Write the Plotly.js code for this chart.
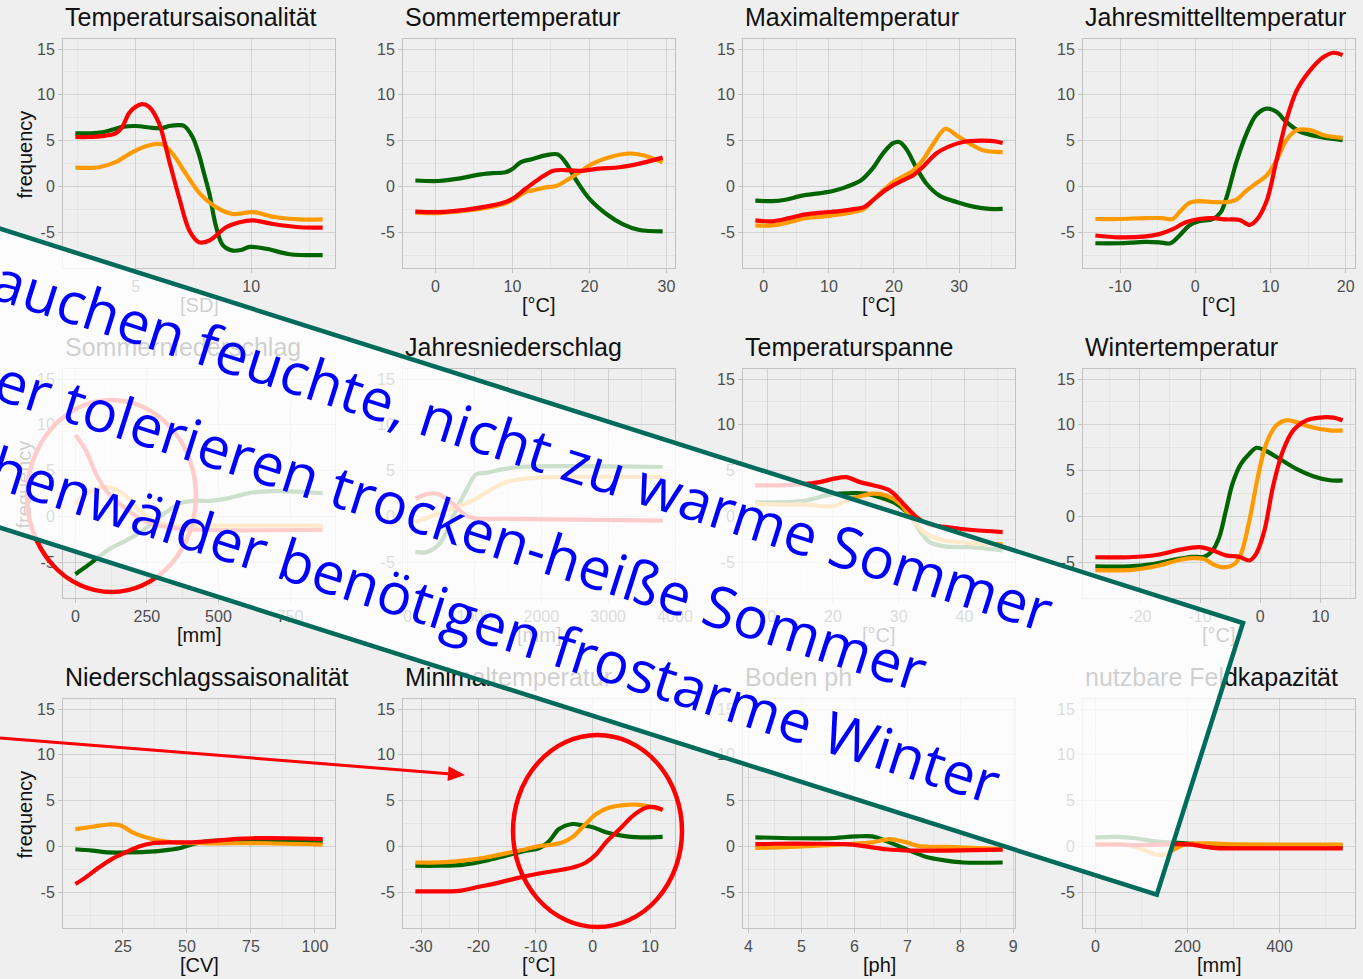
<!DOCTYPE html>
<html><head><meta charset="utf-8">
<script src="https://cdn.plot.ly/plotly-3.0.1.min.js"></script>
<style>
html,body{margin:0;padding:0;background:#efefef;overflow:hidden;width:1363px;height:979px}
#chart,#overlay{position:absolute;left:0;top:0;width:1363px;height:979px}
#overlay{pointer-events:none}
</style></head><body>
<div id="chart"></div><div id="overlay"></div>
<script>
// ---------- labels ----------
const panelTitles = ['Temperatursaisonalität','Sommertemperatur','Maximaltemperatur','Jahresmittelltemperatur',
  'Sommerniederschlag','Jahresniederschlag','Temperaturspanne','Wintertemperatur',
  'Niederschlagssaisonalität','Minimaltemperatur','Boden ph','nutzbare Feldkapazität'];
const xUnitLabels = ['[SD]','[°C]','[°C]','[°C]','[mm]','[mm]','[°C]','[°C]','[CV]','[°C]','[ph]','[mm]'];
const xTickSteps = [5,10,10,10,250,1000,10,10,25,10,1,200];
const yTickValues = [-5,0,5,10,15];
const yAxisTitle = 'frequency';
const bannerLines = ['auchen feuchte, nicht zu warme Sommer','er tolerieren trocken-heiße Sommer','henwälder benötigen frostarme Winter'];

// ---------- data ----------
// 1 Temperatursaisonalität
const tsGreenX = [2.39,2.97,3.55,4.13,4.42,5.0,5.72,6.16,6.45,6.88,7.1,7.46,7.75,7.97,8.19,8.48,8.77,9.2,9.6,9.93,10.65,11.67,13.09];
const tsGreenY = [5.8,5.8,5.9,6.3,6.5,6.6,6.4,6.4,6.6,6.7,6.6,5.4,3.4,1.3,-0.8,-4.4,-6.4,-7.0,-6.9,-6.6,-6.8,-7.4,-7.5];
const tsOrangeX = [2.39,3.41,4.13,4.86,5.58,6.16,6.59,7.17,7.75,8.48,9.2,10.07,10.94,12.1,13.09];
const tsOrangeY = [2.05,2.1,2.65,3.75,4.5,4.6,3.6,1.4,-0.7,-2.25,-3.0,-2.8,-3.3,-3.6,-3.6];
const tsRedX = [2.39,2.97,3.55,4.13,4.42,4.71,5.0,5.29,5.58,6.01,6.45,6.88,7.32,7.75,8.19,8.91,9.49,10.07,10.94,12.1,13.09];
const tsRedY = [5.4,5.4,5.5,5.8,6.5,8.0,8.7,9.0,8.7,6.9,2.8,-1.2,-4.8,-6.1,-5.9,-4.45,-3.9,-3.7,-4.1,-4.45,-4.5];
// 2 Sommertemperatur
const stGreenX = [-2.6,0.43,3.0,5.65,7.4,9.1,10,11.1,12.6,14.3,15.9,17,18.3,20,22.2,24.3,26.5,29.5];
const stGreenY = [0.65,0.6,0.85,1.3,1.45,1.55,1.9,2.65,3.0,3.4,3.5,2.5,0.65,-1.35,-3.0,-4.1,-4.75,-4.9];
const stOrangeX = [-2.6,0.43,3.9,6.5,8.7,10,11.7,12.6,14.3,15.7,17,18.7,20.4,22.6,25.2,27,29.5];
const stOrangeY = [-2.85,-2.9,-2.65,-2.35,-1.95,-1.5,-0.6,-0.45,-0.1,0.05,0.65,1.55,2.5,3.2,3.6,3.4,2.65];
const stRedX = [-2.6,0.43,3.9,6.5,8.7,10,11.7,13.5,15.2,16.5,18.7,21.3,23.9,26.5,29.5];
const stRedY = [-2.75,-2.8,-2.55,-2.2,-1.8,-1.35,-0.25,0.85,1.7,1.8,1.7,1.95,2.1,2.5,3.15];
// 3 Maximaltemperatur
const mxGreenX = [-1.3,1.3,3.3,5.9,8.5,10.6,12.6,14.9,16.7,18.3,19.8,20.8,21.9,23.4,25,27,29.6,32.2,34.7,36.7];
const mxGreenY = [-1.55,-1.6,-1.45,-1.0,-0.75,-0.5,-0.07,0.65,1.95,3.6,4.7,4.85,4.1,2.1,0.3,-1.0,-1.7,-2.2,-2.45,-2.45];
const mxOrangeX = [-1.3,1.3,3.9,6.4,9,11.6,13.6,15.4,16.7,18.3,19.8,21.9,22.9,24.4,26,27.9,29.6,31.7,33.7,36.7];
const mxOrangeY = [-4.25,-4.25,-3.9,-3.45,-3.3,-3.05,-2.8,-2.45,-1.55,-0.45,0.45,1.3,1.7,2.85,4.6,6.3,5.6,4.65,3.95,3.75];
const mxRedX = [-1.3,1.3,3.9,6.4,9,11.6,13.6,15.4,16.7,18.3,19.8,21.9,22.9,24.4,26.5,28.6,30.6,33.2,35.3,36.7];
const mxRedY = [-3.7,-3.8,-3.45,-3.05,-2.85,-2.7,-2.5,-2.25,-1.55,-0.6,0.1,0.85,1.2,2.1,3.6,4.4,4.85,5.0,4.95,4.75];
// 4 Jahresmittelltemperatur
const jmGreenX = [-13.3,-10.2,-6.6,-4.8,-3.3,-2.1,-0.8,0.5,2.3,3.4,4.3,5.4,6.8,8.1,9.5,10.8,12.1,13.9,16.6,19.6];
const jmGreenY = [-6.2,-6.2,-6.05,-6.1,-6.2,-5.35,-4.25,-3.8,-3.55,-2.8,-0.8,2.5,5.75,7.8,8.5,8.15,7.05,6.0,5.4,5.05];
const jmOrangeX = [-13.3,-10.2,-6.6,-4.4,-3,-2.1,-0.8,0.5,2.3,4.1,5.4,6.8,8.1,9.5,10.8,12.1,13.5,15.3,17.1,19.6];
const jmOrangeY = [-3.55,-3.55,-3.45,-3.45,-3.55,-2.8,-1.8,-1.6,-1.7,-1.7,-1.45,-0.45,0.35,1.2,2.85,5.05,6.15,6.15,5.6,5.3];
const jmRedX = [-13.3,-10.2,-6.6,-4.8,-3,-1.25,0.5,2.3,4.1,5.9,7.2,8.1,9.5,10.8,12.1,13.5,15.3,17.1,18.4,19.6];
const jmRedY = [-5.35,-5.55,-5.45,-5.2,-4.65,-3.9,-3.55,-3.45,-3.6,-3.65,-4.2,-3.7,-1.55,2.85,7.2,10.5,12.7,14.15,14.6,14.35];
// 5 Sommerniederschlag
const snGreenX = [0,49,119,178,236,294,364,411,470,528,598,668,750,864];
const snGreenY = [-6.3,-5.2,-3.55,-2.6,-1.55,-0.07,1.4,1.7,1.7,1.95,2.5,2.75,2.75,2.55];
const snOrangeX = [0,49,107,166,224,283,341,434,864];
const snOrangeY = [1.4,2.65,3.2,2.5,0.65,-0.6,-1.0,-1.0,-1.0];
const snRedX = [0,37,72,107,154,201,259,318,434,864];
const snRedY = [8.9,7.2,4.65,2.85,1.4,0.3,-0.7,-1.15,-1.45,-1.45];
// 6 Jahresniederschlag
const jnGreenX = [115,275,475,675,875,1025,1175,1375,1675,3815];
const jnGreenY = [-3.9,-3.9,-3.0,-0.07,2.85,4.6,4.75,5.1,5.4,5.4];
const jnOrangeX = [115,475,725,975,1225,1475,1725,2225,3815];
const jnOrangeY = [-0.6,0.35,1.0,1.75,2.85,3.75,4.1,4.3,4.3];
const jnRedX = [115,325,475,675,875,1075,1475,3815];
const jnRedY = [1.95,2.5,2.4,1.4,0.1,-0.25,-0.25,-0.45];
// 7 Temperaturspanne
const tspGreenX = [8.2,11.9,15.9,19,21,23,25.1,27.1,29.6,31.7,33.2,34.7,37.3,40.8,45.8];
const tspGreenY = [1.55,1.55,1.75,2.3,2.5,2.55,2.5,2.1,1.4,0.1,-1.55,-2.8,-3.3,-3.35,-3.7];
const tspOrangeX = [8.2,11.9,15.9,19,20.5,22,24.1,26.1,28.1,30.2,32.2,34.2,36.8,40.8,45.8];
const tspOrangeY = [1.4,1.3,1.3,1.1,1.2,1.75,2.2,2.5,2.3,1.4,-0.45,-1.9,-2.6,-2.9,-3.05];
const tspRedX = [8.2,11.9,14.9,18,20,22,24.1,26.1,28.6,30.7,32.7,34.7,37.3,40.8,45.8];
const tspRedY = [3.4,3.4,3.5,3.75,4.1,4.3,3.75,3.4,2.85,1.4,-0.07,-0.9,-1.15,-1.45,-1.7];
// 8 Wintertemperatur
const wtGreenX = [-27.4,-21.8,-17.9,-14.6,-11.3,-9.3,-7.9,-6.8,-5.7,-4.6,-3.2,-1.8,-0.6,1,3.2,6,8.8,11.6,13.7];
const wtGreenY = [-5.45,-5.45,-5.2,-4.75,-4.4,-4.4,-3.7,-2.25,0.65,3.6,5.75,6.85,7.5,7.15,6.3,5.2,4.4,3.95,3.95];
const wtOrangeX = [-27.4,-21.8,-16.8,-13.5,-11.3,-9.3,-7.9,-6.2,-4.3,-3.2,-1.8,-0.4,1,2.7,4.3,6,8.2,11.6,13.7];
const wtOrangeY = [-5.85,-5.85,-5.35,-4.75,-4.55,-4.65,-5.2,-5.55,-5.2,-4.1,-0.45,4.3,7.95,9.95,10.5,10.3,9.8,9.4,9.4];
const wtRedX = [-27.4,-21.8,-16.8,-13.5,-10.1,-7.9,-5.7,-3.5,-1.8,-0.7,0.7,2.1,3.8,5.5,7.7,9.9,12.1,13.7];
const wtRedY = [-4.45,-4.45,-4.15,-3.65,-3.35,-3.7,-4.25,-4.4,-4.8,-4.1,-1.55,3.2,7.2,9.4,10.5,10.8,10.8,10.5];
// 9 Niederschlagssaisonalität
const nsGreenX = [6.4,13,19.5,26,33.9,41.8,47,52.2,57.5,67.9,81,103];
const nsGreenY = [-0.3,-0.45,-0.65,-0.65,-0.6,-0.4,-0.2,0.25,0.55,0.7,0.6,0.55];
const nsOrangeX = [6.4,13,19.5,24.1,28.7,33.9,39.1,44.4,54.8,67.9,81,103];
const nsOrangeY = [1.9,2.15,2.4,2.3,1.55,1.0,0.65,0.45,0.35,0.35,0.35,0.2];
const nsRedX = [6.4,10.3,15.6,20.8,26,31.3,36.5,44.4,52.2,60.1,67.9,75.8,88.9,103];
const nsRedY = [-4.1,-3.4,-2.3,-1.35,-0.65,0,0.35,0.45,0.45,0.6,0.8,0.9,0.9,0.8];
// 10 Minimaltemperatur
const mnGreenX = [-31,-26.9,-22.8,-18.7,-15.2,-11.7,-9.4,-7.6,-5.9,-3.5,-1.8,0,2.3,5.3,8.2,12.2];
const mnGreenY = [-2.1,-2.1,-2.0,-1.55,-1.0,-0.45,-0.2,0.6,1.9,2.45,2.3,2.1,1.55,1.15,1.0,1.05];
const mnOrangeX = [-31,-26.9,-22.8,-18.7,-15.2,-11.7,-9.4,-7,-5.3,-3.5,-1.8,0.6,2.9,5.9,8.2,12.2];
const mnOrangeY = [-1.75,-1.75,-1.55,-1.2,-0.75,-0.3,0.05,0.2,0.45,1.05,2.1,3.55,4.25,4.55,4.55,4.0];
const mnRedX = [-31,-26.9,-23.4,-19.9,-16.4,-12.9,-9.4,-5.9,-3.5,-1.2,0.6,2.3,4.7,7,9.4,10.8,12.2];
const mnRedY = [-4.9,-4.9,-4.85,-4.4,-3.95,-3.4,-2.95,-2.6,-2.3,-1.75,-0.85,0.45,1.9,3.35,4.25,4.3,4.0];
// 11 Boden ph
const bpGreenX = [4.13,4.89,5.52,6.03,6.34,6.6,6.98,7.36,7.74,8.05,8.8];
const bpGreenY = [1.0,0.9,0.9,1.1,1.1,0.6,-0.3,-1.15,-1.55,-1.75,-1.75];
const bpOrangeX = [4.13,4.57,5.2,5.84,6.34,6.66,6.98,7.23,7.74,8.8];
const bpOrangeY = [-0.15,-0.1,0.05,0.25,0.45,0.8,0.45,0.05,-0.05,-0.3];
const bpRedX = [4.13,4.57,5.2,5.84,6.22,6.6,7.1,7.74,8.8];
const bpRedY = [0.25,0.3,0.3,0.25,0,-0.3,-0.45,-0.45,-0.35];
// 12 nutzbare Feldkapazität
const nfGreenX = [0,51,87,124,160,196,240,284,537];
const nfGreenY = [1.0,1.05,0.9,0.6,0.45,0.35,0.2,0.05,0.05];
const nfOrangeX = [0,65,102,131,153,175,196,240,284,537];
const nfOrangeY = [0.25,0.2,-0.3,-0.9,-0.85,-0.2,0.25,0.35,0.25,0.2];
const nfRedX = [0,51,95,138,182,211,240,269,342,537];
const nfRedY = [0.2,0.2,0.15,0.2,0.25,0.2,-0.05,-0.2,-0.2,-0.2];

const seriesColors = ['#006400','#FF9A00','#FF0000'];
const panelSeries = [
  [[tsGreenX,tsGreenY],[tsOrangeX,tsOrangeY],[tsRedX,tsRedY]],
  [[stGreenX,stGreenY],[stOrangeX,stOrangeY],[stRedX,stRedY]],
  [[mxGreenX,mxGreenY],[mxOrangeX,mxOrangeY],[mxRedX,mxRedY]],
  [[jmGreenX,jmGreenY],[jmOrangeX,jmOrangeY],[jmRedX,jmRedY]],
  [[snGreenX,snGreenY],[snOrangeX,snOrangeY],[snRedX,snRedY]],
  [[jnGreenX,jnGreenY],[jnOrangeX,jnOrangeY],[jnRedX,jnRedY]],
  [[tspGreenX,tspGreenY],[tspOrangeX,tspOrangeY],[tspRedX,tspRedY]],
  [[wtGreenX,wtGreenY],[wtOrangeX,wtOrangeY],[wtRedX,wtRedY]],
  [[nsGreenX,nsGreenY],[nsOrangeX,nsOrangeY],[nsRedX,nsRedY]],
  [[mnGreenX,mnGreenY],[mnOrangeX,mnOrangeY],[mnRedX,mnRedY]],
  [[bpGreenX,bpGreenY],[bpOrangeX,bpOrangeY],[bpRedX,bpRedY]],
  [[nfGreenX,nfGreenY],[nfOrangeX,nfOrangeY],[nfRedX,nfRedY]]
];

// ---------- geometry ----------
const W = 1363, H = 979;
const colLeft = [63,403,743,1083], plotW = 272;
const rowTop = [39,369,699], plotH = 229;
const yRange = [-8.9,16.1];
const FONT = 'Liberation Sans, Arial, sans-serif';
const px = x => x / W, py = y => 1 - y / H;

const traces = [];
const layout = {
  width: W, height: H, margin: {l:0,r:0,t:0,b:0},
  paper_bgcolor: '#efefef', plot_bgcolor: 'rgba(0,0,0,0)',
  showlegend: false, font: {family: FONT},
  annotations: []
};

panelSeries.forEach((ser, p) => {
  const col = p % 4, row = Math.floor(p / 4);
  const sfx = p === 0 ? '' : String(p + 1);
  let mn = Infinity, mx = -Infinity;
  ser.forEach((s, c) => {
    s[0].forEach(v => { mn = Math.min(mn, v); mx = Math.max(mx, v); });
    traces.push({x: s[0], y: s[1], type: 'scatter', mode: 'lines',
      line: {color: seriesColors[c], width: 4.2, shape: 'spline', smoothing: 0.9},
      xaxis: 'x' + sfx, yaxis: 'y' + sfx, hoverinfo: 'skip'});
  });
  const pad = (mx - mn) * 0.05;
  const xr = [mn - pad, mx + pad];
  const step = xTickSteps[p];
  const xt = [];
  for (let v = Math.ceil(xr[0] / step) * step; v <= xr[1] + 1e-9; v += step) xt.push(+v.toFixed(6));
  const l = colLeft[col], t = rowTop[row];
  const common = {
    showgrid: true, gridcolor: 'rgba(0,0,0,0.08)', gridwidth: 1,
    zeroline: false, showline: true, mirror: true, linecolor: '#c2c2c2', linewidth: 1,
    ticks: 'outside', ticklen: 4, tickcolor: '#c2c2c2',
    tickfont: {family: FONT, size: 16, color: '#4d4d4d'}, fixedrange: true
  };
  layout['xaxis' + sfx] = Object.assign({}, common, {
    domain: [px(l), px(l + plotW)], anchor: 'y' + sfx, range: xr,
    tickmode: 'array', tickvals: xt, ticktext: xt.map(String),
    minor: {dtick: step / 2, tick0: 0, showgrid: true, gridcolor: 'rgba(0,0,0,0.04)', ticks: ''}
  });
  layout['yaxis' + sfx] = Object.assign({}, common, {
    domain: [py(t + plotH), py(t)], anchor: 'x' + sfx, range: yRange,
    tickmode: 'array', tickvals: yTickValues, ticktext: yTickValues.map(String),
    minor: {dtick: 2.5, tick0: 0, showgrid: true, gridcolor: 'rgba(0,0,0,0.04)', ticks: ''}
  });
  layout.annotations.push({text: panelTitles[p], xref: 'paper', yref: 'paper',
    x: px(l), y: py(t - 22), xanchor: 'left', yanchor: 'middle', showarrow: false,
    font: {family: FONT, size: 25, color: '#111'}});
  layout.annotations.push({text: xUnitLabels[p], xref: 'paper', yref: 'paper',
    x: px(l + plotW / 2), y: py(t + plotH + 37), xanchor: 'center', yanchor: 'middle', showarrow: false,
    font: {family: FONT, size: 20, color: '#111'}});
  if (col === 0) {
    layout.annotations.push({text: yAxisTitle, xref: 'paper', yref: 'paper', textangle: -90,
      x: px(24), y: py(t + plotH / 2 + 1), xanchor: 'center', yanchor: 'middle', showarrow: false,
      font: {family: FONT, size: 20, color: '#111'}});
  }
});

Plotly.newPlot('chart', traces, layout, {staticPlot: true});

// ---------- overlay: circles, arrow, banner ----------
const angle = 17.6, rad = angle * Math.PI / 180;
const ux = Math.cos(rad), uy = Math.sin(rad);
const bTR = [1243, 623], bandW = 285, bandLen = 1900;
const bBR = [bTR[0] - uy * bandW, bTR[1] + ux * bandW];
const bTL = [bTR[0] - ux * bandLen, bTR[1] - uy * bandLen];
const bBL = [bBR[0] - ux * bandLen, bBR[1] - uy * bandLen];
const arrowFrom = [0, 738], arrowTo = [465, 775];
const ad = [arrowTo[0] - arrowFrom[0], arrowTo[1] - arrowFrom[1]];
const al = Math.hypot(ad[0], ad[1]); const au = [ad[0] / al, ad[1] / al];
const hl = 17, hw = 7.5;
const hb = [arrowTo[0] - au[0] * hl, arrowTo[1] - au[1] * hl];
const h1 = [hb[0] - au[1] * hw, hb[1] + au[0] * hw], h2 = [hb[0] + au[1] * hw, hb[1] - au[0] * hw];
const P = p => p[0].toFixed(1) + ',' + p[1].toFixed(1);

const bannerCenters = [[523, 443], [461, 523], [495, 623]];
const oLayout = {
  width: W, height: H, margin: {l:0,r:0,t:0,b:0},
  paper_bgcolor: 'rgba(0,0,0,0)', plot_bgcolor: 'rgba(0,0,0,0)', showlegend: false,
  xaxis: {visible: false, range: [0, W], fixedrange: true},
  yaxis: {visible: false, range: [H, 0], fixedrange: true},
  shapes: [
    {type: 'circle', xref: 'x', yref: 'y', x0: 27, x1: 196, y0: 400, y1: 592, line: {color: '#FF0000', width: 4.5}},
    {type: 'circle', xref: 'x', yref: 'y', x0: 513, x1: 682, y0: 735, y1: 927, line: {color: '#FF0000', width: 4.5}},
    {type: 'line', xref: 'x', yref: 'y', x0: arrowFrom[0], y0: arrowFrom[1], x1: hb[0], y1: hb[1], line: {color: '#FF0000', width: 3}},
    {type: 'path', xref: 'x', yref: 'y', path: 'M' + P(arrowTo) + 'L' + P(h1) + 'L' + P(h2) + 'Z', fillcolor: '#FF0000', line: {width: 0}},
    {type: 'path', xref: 'x', yref: 'y', path: 'M' + P(bTL) + 'L' + P(bTR) + 'L' + P(bBR) + 'L' + P(bBL) + 'Z',
      fillcolor: 'rgba(255,255,255,0.8)', line: {color: '#006B5A', width: 4.5}}
  ],
  annotations: bannerLines.map((txt, i) => ({
    text: txt, xref: 'x', yref: 'y', x: bannerCenters[i][0], y: bannerCenters[i][1],
    xanchor: 'center', yanchor: 'middle', showarrow: false, textangle: angle,
    font: {family: 'Open Sans, Noto Sans, sans-serif', size: 58, color: '#0000FF'}
  }))
};
Plotly.newPlot('overlay', [], oLayout, {staticPlot: true});
</script></body></html>
